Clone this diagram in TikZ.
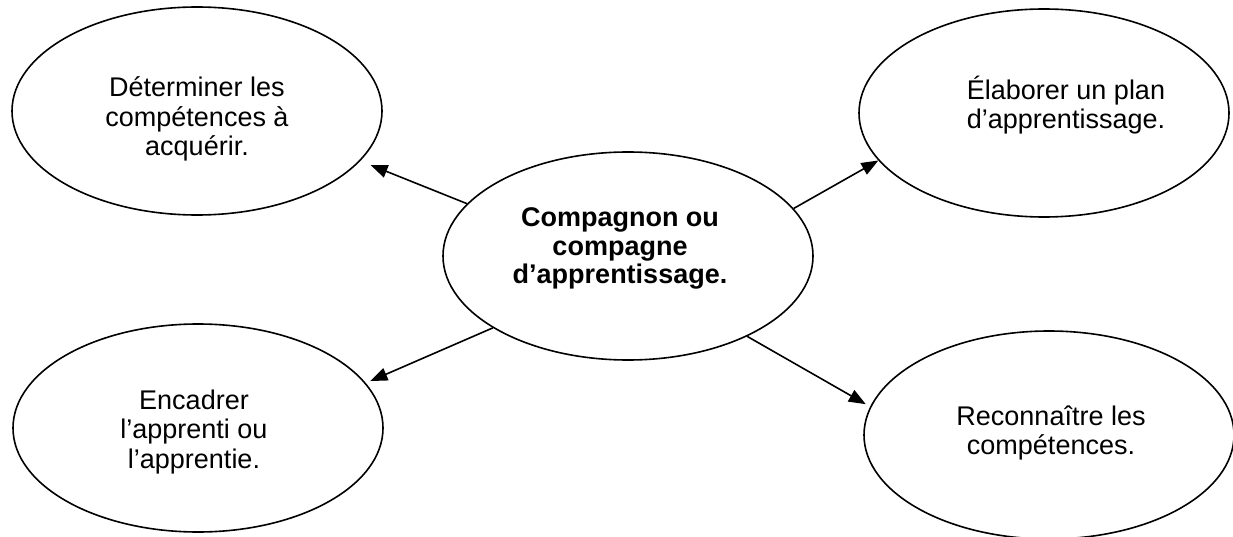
\documentclass[tikz,border=0pt]{standalone}
\usepackage{fontspec}
\setmainfont{Liberation Sans}
\usetikzlibrary{shapes.geometric,arrows.meta}
\begin{document}
\begin{tikzpicture}[x=1pt,y=-1pt,
  bubble/.style={draw,line width=1.6pt,ellipse,minimum width=370pt,minimum height=208pt,inner sep=0pt},
  txt/.style={align=center,font=\fontsize{27}{29.5}\selectfont,inner sep=0pt},
  link/.style={line width=1.6pt,-{Triangle[length=17pt,width=13pt]}}]
\useasboundingbox (0,0) rectangle (1233,537);
\node[bubble] (tl) at (197,111) {};
\node[bubble] (tr) at (1044,113) {};
\node[bubble] (c) at (628,256) {};
\node[bubble] (bl) at (198,428) {};
\node[bubble] (br) at (1049,435) {};
\node[txt] (ttl) at (197,119) {Déterminer les\\compétences à\\acquérir.};
\node[txt] (ttr) at (1066,105) {Élaborer un plan\\d’apprentissage.};
\node[txt,font=\fontsize{27}{28.5}\selectfont\bfseries] (tc) at (620,248.5) {Compagnon ou\\compagne\\d’apprentissage.};
\node[txt] (tbl) at (194,432) {Encadrer\\l’apprenti ou\\l’apprentie.};
\node[txt] (tbr) at (1051,433) {Reconnaître les\\compétences.};
\draw[link,shorten >=11pt] (c.162) -- (tl.-17);
\draw[link] (c.16) -- (tr.196.5);
\draw[link,shorten >=5pt] (c.208.6) -- (bl.15.8);
\draw[link,shorten >=5pt] (c.-34.2) -- (br.171.3);
\end{tikzpicture}
\end{document}
